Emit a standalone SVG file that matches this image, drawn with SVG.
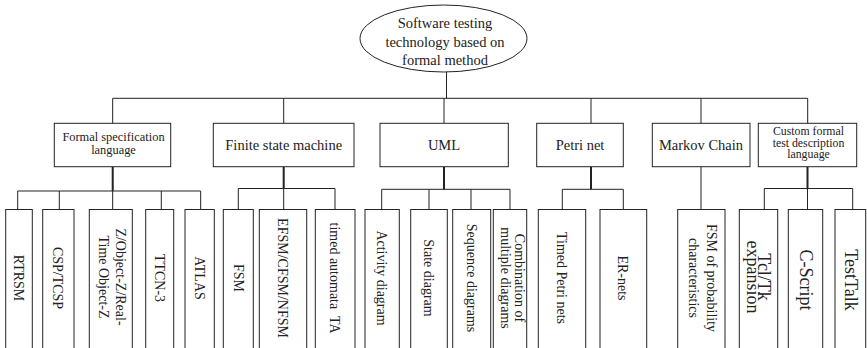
<svg xmlns="http://www.w3.org/2000/svg" width="867" height="348" viewBox="0 0 867 348" font-family="'Liberation Serif', 'Times New Roman', serif">
  <style>
    .box { fill: #fff; stroke: #222; stroke-width: 1; }
    .wire { fill: none; stroke: #222; stroke-width: 1; }
    .drop { fill: none; stroke: #222; stroke-width: 2; }
    text { font-family: 'Liberation Serif', 'Times New Roman', serif; fill: #222; text-anchor: middle; }
    .t0 { font-size: 14.5px; }
    .t1 { font-size: 14.5px; }
    .t1s { font-size: 12.4px; }
    .t1c { font-size: 11.8px; }
    .leaf { font-size: 14px; }
    .big { font-size: 18px; }
  </style>

  <!-- connectors -->
  <g id="connectors">
    <!-- root to level 1 -->
    <path class="wire" d="M446.5 72 V98.3 M112.7 98.3 H807.7 M112.7 98.3 V123.3 M283.7 98.3 V123.3 M444 98.3 V123.3 M591 98.3 V123.3 M701 98.3 V123.3 M807.7 98.3 V123.3"/>
    <!-- level 1 drops -->
    <path class="drop" d="M112.7 166.7 V191 M283.7 166.7 V188.5 M444 166.7 V189.3 M591 166.7 V189.3 M807.5 166.7 V188.5"/>
    <!-- formal specification language -->
    <path class="wire" d="M17.7 191 H200.7 M17.7 191 V209.5 M59.3 191 V209.5 M112.7 191 V209.5 M161.3 191 V209.5 M200.7 191 V209.5"/>
    <!-- finite state machine -->
    <path class="wire" d="M238.3 188.5 H335 M238.3 188.5 V209.5 M283.7 188.5 V209.5 M335 188.5 V209.5"/>
    <!-- UML -->
    <path class="wire" d="M381.7 189.3 H510 M381.7 189.3 V209.5 M429 189.3 V209.5 M471 189.3 V209.5 M510 189.3 V209.5"/>
    <!-- petri net -->
    <path class="wire" d="M562.3 189.3 H623.3 M562.3 189.3 V209.5 M623.3 189.3 V209.5"/>
    <!-- markov chain -->
    <path class="wire" d="M701 166.7 V209.5"/>
    <!-- custom language -->
    <path class="wire" d="M764.3 188.5 H852.7 M764.3 188.5 V209.5 M807.5 188.5 V209.5 M852.7 188.5 V209.5"/>
  </g>

  <!-- root -->
  <g id="root">
    <ellipse class="box" cx="443.5" cy="38.5" rx="83.5" ry="33.5"/>
    <text class="t0" x="445" y="28.3">Software testing</text>
    <text class="t0" x="445" y="46.6">technology based on</text>
    <text class="t0" x="445" y="64.9">formal method</text>
  </g>

  <!-- level 1 -->
  <g id="n-formal-spec">
    <rect class="box" x="54.3" y="123.3" width="116.4" height="43.4"/>
    <text class="t1s" x="113.5" y="141.4">Formal specification</text>
    <text class="t1s" x="113.5" y="154.2">language</text>
  </g>
  <g id="n-fsm">
    <rect class="box" x="213.3" y="123.3" width="140.7" height="43.4"/>
    <text class="t1" x="283.7" y="149.5">Finite state machine</text>
  </g>
  <g id="n-uml">
    <rect class="box" x="380" y="123.3" width="128.3" height="43.4"/>
    <text class="t1" x="444" y="150.3">UML</text>
  </g>
  <g id="n-petri">
    <rect class="box" x="536.7" y="123.3" width="86.6" height="43.4"/>
    <text class="t1" x="580" y="150">Petri net</text>
  </g>
  <g id="n-markov">
    <rect class="box" x="652.3" y="123.3" width="97.7" height="43.4"/>
    <text class="t1" x="701" y="150">Markov Chain</text>
  </g>
  <g id="n-custom">
    <rect class="box" x="758.3" y="123.3" width="98.4" height="43.4"/>
    <text class="t1c" x="808.5" y="135.2">Custom formal</text>
    <text class="t1c" x="808.5" y="146.6">test description</text>
    <text class="t1c" x="808.5" y="158">language</text>
  </g>

  <!-- leaves: formal specification language -->
  <g id="n-rtrsm">
    <rect class="box" x="5.7" y="209.5" width="26.6" height="150"/>
    <text class="leaf" transform="translate(19 278) rotate(90)" y="5">RTRSM</text>
  </g>
  <g id="n-csp">
    <rect class="box" x="42.7" y="209.5" width="31.3" height="150"/>
    <text class="leaf" transform="translate(58.3 278) rotate(90)" y="5">CSP/TCSP</text>
  </g>
  <g id="n-objectz">
    <rect class="box" x="89.3" y="209.5" width="43" height="150"/>
    <g transform="translate(110.8 277) rotate(90)">
      <text class="leaf" y="-5.5">Z/Object-Z/Real-</text>
      <text class="leaf" y="11.8">Time Object-Z</text>
    </g>
  </g>
  <g id="n-ttcn">
    <rect class="box" x="145.7" y="209.5" width="28" height="150"/>
    <text class="leaf" transform="translate(159.7 278) rotate(90)" y="5">TTCN-3</text>
  </g>
  <g id="n-atlas">
    <rect class="box" x="185" y="209.5" width="29.3" height="150"/>
    <text class="leaf" transform="translate(199.7 278) rotate(90)" y="5">ATLAS</text>
  </g>

  <!-- leaves: finite state machine -->
  <g id="n-fsm-basic">
    <rect class="box" x="223.3" y="209.5" width="30" height="150"/>
    <text class="leaf" transform="translate(239 278) rotate(90)" y="5">FSM</text>
  </g>
  <g id="n-efsm">
    <rect class="box" x="259.3" y="209.5" width="47.4" height="150"/>
    <text class="leaf" transform="translate(283 278) rotate(90)" y="5">EFSM/CFSM/NFSM</text>
  </g>
  <g id="n-ta">
    <rect class="box" x="315.3" y="209.5" width="39.7" height="150"/>
    <text class="leaf" transform="translate(335.2 278) rotate(90)" y="5" style="white-space:pre">timed automata  TA</text>
  </g>

  <!-- leaves: UML -->
  <g id="n-activity">
    <rect class="box" x="365" y="209.5" width="34.3" height="150"/>
    <text class="leaf" transform="translate(382 278) rotate(90)" y="5">Activity diagram</text>
  </g>
  <g id="n-state">
    <rect class="box" x="410.7" y="209.5" width="36.6" height="150"/>
    <text class="leaf" transform="translate(429 278) rotate(90)" y="5">State diagram</text>
  </g>
  <g id="n-sequence">
    <rect class="box" x="452.7" y="209.5" width="38" height="150"/>
    <text class="leaf" transform="translate(471.7 278) rotate(90)" y="5">Sequence diagrams</text>
  </g>
  <g id="n-combination">
    <rect class="box" x="493.3" y="209.5" width="33.4" height="150"/>
    <g transform="translate(510 278) rotate(90)">
      <text class="leaf" y="-4.5">Combination of</text>
      <text class="leaf" y="9">multiple diagrams</text>
    </g>
  </g>

  <!-- leaves: petri net -->
  <g id="n-timed-petri">
    <rect class="box" x="538.3" y="209.5" width="47.4" height="150"/>
    <text class="leaf" transform="translate(562 278) rotate(90)" y="5">Timed Petri nets</text>
  </g>
  <g id="n-er-nets">
    <rect class="box" x="600" y="209.5" width="46.7" height="150"/>
    <text class="leaf" transform="translate(623.3 278) rotate(90)" y="5">ER-nets</text>
  </g>

  <!-- leaves: markov chain -->
  <g id="n-prob-fsm">
    <rect class="box" x="677.7" y="209.5" width="47.3" height="150"/>
    <g transform="translate(701.3 278) rotate(90)">
      <text class="leaf" y="-5.5">FSM of probability</text>
      <text class="leaf" y="12">characteristics</text>
    </g>
  </g>

  <!-- leaves: custom language -->
  <g id="n-tcltk">
    <rect class="box" x="739.3" y="209.5" width="38.4" height="150"/>
    <g transform="translate(758.5 277) rotate(90)">
      <text class="big" y="0.5">Tcl/Tk</text>
      <text class="big" y="12">expansion</text>
    </g>
  </g>
  <g id="n-cscript">
    <rect class="box" x="788.3" y="209.5" width="34.4" height="150"/>
    <text class="big" transform="translate(805.5 280) rotate(90)" y="6">C-Script</text>
  </g>
  <g id="n-testtalk">
    <rect class="box" x="835" y="209.5" width="30.7" height="150"/>
    <text class="big" transform="translate(850.3 280) rotate(90)" y="5">TestTalk</text>
  </g>
</svg>
